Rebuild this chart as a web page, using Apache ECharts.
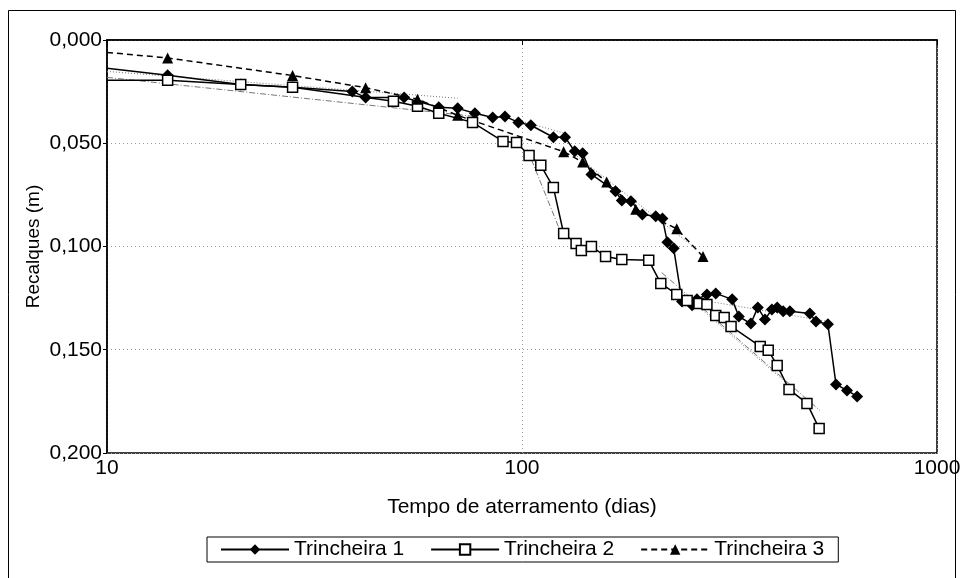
<!DOCTYPE html>
<html>
<head>
<meta charset="utf-8">
<script src="https://cdn.jsdelivr.net/npm/echarts@6/dist/echarts.min.js"></script>
<style>html,body{margin:0;padding:0;background:#fff;}#c{width:965px;height:578px;}</style>
</head>
<body>
<div id="c"></div>
<script>
// Tempo de aterramento (dias)
var t1Days = [10, 14, 21, 28, 39, 42, 52, 63, 70, 77, 85, 91, 98, 105, 119, 127, 134, 140, 147, 168, 174, 183, 195, 210, 218, 224, 232, 243, 257, 264, 279, 293, 321, 333, 356, 370, 385, 400, 412, 426, 442, 494, 511, 546, 571, 607, 642];
var t1Settle = [0.0137, 0.0171, 0.0215, 0.0229, 0.0249, 0.0278, 0.0278, 0.0326, 0.0331, 0.0355, 0.0375, 0.0370, 0.0399, 0.0413, 0.0471, 0.0471, 0.0539, 0.0549, 0.0651, 0.0733, 0.0777, 0.0781, 0.0845, 0.0854, 0.0864, 0.0980, 0.1009, 0.1266, 0.1285, 0.1256, 0.1232, 0.1227, 0.1256, 0.1339, 0.1373, 0.1295, 0.1353, 0.1305, 0.1295, 0.1314, 0.1314, 0.1324, 0.1363, 0.1377, 0.1668, 0.1697, 0.1726];

var t2Days = [10, 14, 21, 28, 49, 56, 63, 76, 90, 97, 104, 111, 119, 126, 135, 139, 147, 159, 174, 202, 216, 236, 250, 267, 279, 293, 307, 319, 375, 392, 412, 440, 486, 520];
var t2Settle = [0.0195, 0.0195, 0.0215, 0.0229, 0.0297, 0.0321, 0.0355, 0.0399, 0.0491, 0.0496, 0.0559, 0.0607, 0.0714, 0.0937, 0.0985, 0.1019, 0.1000, 0.1048, 0.1063, 0.1067, 0.1179, 0.1232, 0.1261, 0.1276, 0.1281, 0.1334, 0.1344, 0.1387, 0.1484, 0.1503, 0.1576, 0.1692, 0.1760, 0.1881];

var t3Days = [10, 14, 28, 42, 56, 70, 126, 140, 160, 188, 236, 273];
var t3Settle = [0.0060, 0.0087, 0.0172, 0.0231, 0.0287, 0.0365, 0.0541, 0.0591, 0.0688, 0.0820, 0.0914, 0.1049];

// Linhas de tendência (início e fim de cada trecho): [dias, recalque]
var trendA = [[10, 0.0152], [70, 0.0282]];
var trendB = [[10, 0.0181], [77, 0.0370]];
var trendC = [[100, 0.0394], [127, 0.0452]];
var trendD = [[134, 0.0554], [264, 0.1014]];
var trendE = [[264, 0.1256], [546, 0.1363]];
var trendF = [[103, 0.0530], [124, 0.0932]];
var trendG = [[217, 0.1126], [522, 0.1794]];
var trendH = [[243, 0.1222], [452, 0.1692]];

var xTicks = [10, 100, 1000];
var yTicks = [0, 0.05, 0.1, 0.15, 0.2];

function pairs(xs, ys) {
  return xs.map(function (x, i) {
    var item = { value: [x, ys[i]] };
    if (x === 10) item.symbol = 'none';
    return item;
  });
}

var FONT = 'Liberation Sans, Arial, sans-serif';
var FS = 21;
var chart = echarts.init(document.getElementById('c'), null, { renderer: 'canvas' });

function trend(data, type) {
  return {
    type: 'line', data: data, symbol: 'none', silent: true, z: 1,
    lineStyle: { color: '#777', width: 1, type: type }
  };
}

chart.setOption({
  animation: false,
  backgroundColor: '#fff',
  textStyle: { fontFamily: FONT },
  graphic: [{
    type: 'rect', shape: { x: 8.5, y: 10.5, width: 947, height: 580 },
    style: { fill: 'none', stroke: '#000', lineWidth: 1 }, silent: true
  }],
  grid: { left: 107, top: 40, right: 28, bottom: 125, show: true, borderColor: '#000', borderWidth: 1.5, backgroundColor: 'transparent' },
  legend: {
    data: ['Trincheira 1', 'Trincheira 2', 'Trincheira 3'],
    left: 207, top: 537,
    borderColor: '#000', borderWidth: 1, padding: [2, 14, 2, 13],
    itemGap: 26, itemWidth: 68, itemHeight: 13,
    textStyle: { fontSize: FS, color: '#000', fontFamily: FONT }
  },
  xAxis: {
    type: 'log', logBase: 10, min: 10, max: 1000,
    name: 'Tempo de aterramento (dias)', nameLocation: 'middle', nameGap: 44,
    nameMoveOverlap: false,
    nameTextStyle: { fontSize: FS, color: '#000', fontFamily: FONT },
    axisLine: { lineStyle: { color: '#000', width: 1.5 } },
    axisTick: { show: true, length: 5, lineStyle: { color: '#000' } },
    axisLabel: {
      fontSize: FS, color: '#000', margin: 5, fontFamily: FONT,
      formatter: function (v) { return xTicks.indexOf(Math.round(v)) >= 0 ? String(Math.round(v)) : ''; }
    },
    minorTick: { show: false },
    splitLine: { show: true, lineStyle: { color: '#999', type: [1, 3], width: 1 } }
  },
  yAxis: {
    type: 'value', inverse: true, min: yTicks[0], max: yTicks[yTicks.length - 1], interval: 0.05,
    name: 'Recalques (m)', nameLocation: 'middle', nameGap: 64,
    nameMoveOverlap: false,
    nameTextStyle: { fontSize: 19, color: '#000', fontFamily: FONT },
    axisLine: { show: true, lineStyle: { color: '#000', width: 1.5 } },
    axisTick: { show: true, length: 4, lineStyle: { color: '#000' } },
    axisLabel: {
      fontSize: FS, color: '#000', margin: 5, fontFamily: FONT,
      formatter: function (v) { return v.toFixed(3).replace('.', ','); }
    },
    splitLine: { show: true, lineStyle: { color: '#999', type: [1, 3], width: 1 } }
  },
  series: [
    trend(trendA, [1, 2]),
    trend(trendB, [6, 2, 1, 2]),
    trend(trendC, [1, 2]),
    trend(trendD, [1, 2]),
    trend(trendE, [1, 2]),
    trend(trendF, [6, 2, 1, 2]),
    trend(trendG, [6, 2, 1, 2]),
    trend(trendH, [1, 2]),
    {
      name: 'Trincheira 1', type: 'line', data: pairs(t1Days, t1Settle), z: 3,
      symbol: 'diamond', symbolSize: 12,
      itemStyle: { color: '#000' },
      lineStyle: { color: '#000', width: 1.5 }
    },
    {
      name: 'Trincheira 2', type: 'line', data: pairs(t2Days, t2Settle), z: 3,
      symbol: 'rect', symbolSize: 10,
      itemStyle: { color: '#fff', borderColor: '#000', borderWidth: 1.5 },
      lineStyle: { color: '#000', width: 1.5 }
    },
    {
      name: 'Trincheira 3', type: 'line', data: pairs(t3Days, t3Settle), z: 3,
      symbol: 'triangle', symbolSize: 11,
      itemStyle: { color: '#000' },
      lineStyle: { color: '#000', width: 1.5, type: [6, 4] }
    }
  ]
});
</script>
</body>
</html>
